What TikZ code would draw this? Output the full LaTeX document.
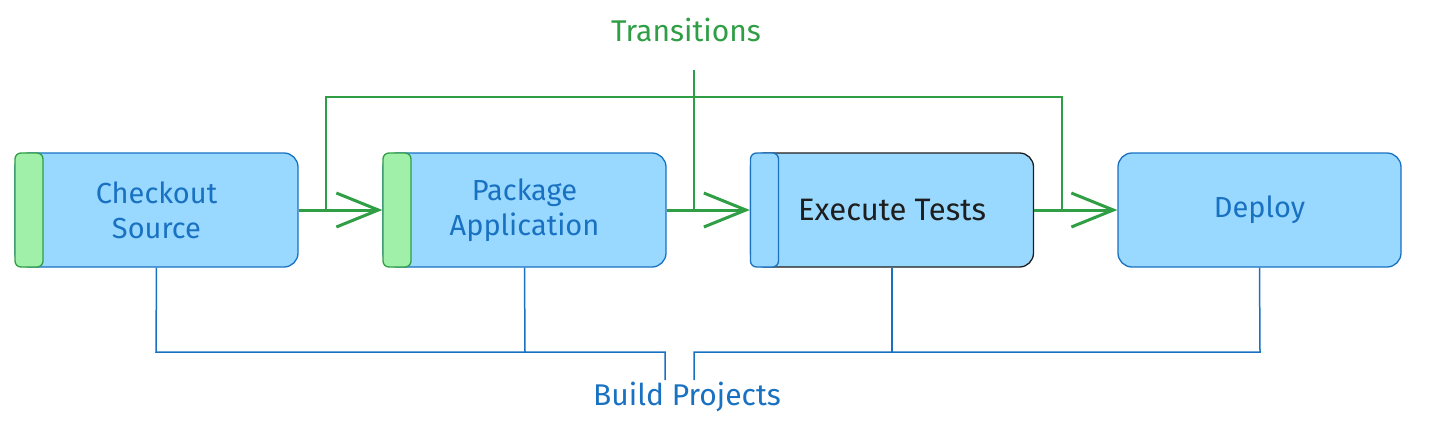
\documentclass[tikz,border=0pt]{standalone}
\usepackage{fontspec}
\setmainfont{Fira Sans}
\usetikzlibrary{arrows.meta,calc}
\definecolor{boxfill}{RGB}{153,216,255}
\definecolor{boxblue}{RGB}{25,113,194}
\definecolor{stripfill}{RGB}{160,240,170}
\definecolor{stripgreen}{RGB}{47,158,68}
\definecolor{arrowgreen}{RGB}{47,158,68}
\definecolor{inkblack}{RGB}{30,30,30}
\tikzset{
  stage/.style={draw=boxblue, fill=boxfill, line width=1.3pt, rounded corners=14pt,
    minimum width=283pt, minimum height=114pt, inner sep=0pt, align=center,
    text=boxblue, font=\fontsize{29}{35}\selectfont},
  strip/.style={draw=stripgreen, fill=stripfill, line width=1.3pt, rounded corners=6pt,
    minimum width=28pt, minimum height=114pt, inner sep=0pt},
  flow/.style={draw=arrowgreen, line width=3pt,
    -{Straight Barb[length=42pt,width=34pt,line width=3pt]}},
  tbracket/.style={draw=arrowgreen, line width=1.5pt},
  bbracket/.style={draw=boxblue, line width=1.5pt},
  lbl/.style={font=\fontsize{30}{34}\selectfont, inner sep=0pt}
}
\begin{document}
\begin{tikzpicture}[x=1pt,y=-1pt]
\useasboundingbox (0,0) rectangle (1430,424);
% stages
\node[stage] (b1) at (156.5,210) {Checkout\\Source};
\node[strip, anchor=west] (s1) at (b1.west) {};
\node[stage] (b2) at (524.5,210) {Package\\Application};
\node[strip, anchor=west] (s2) at (b2.west) {};
\node[stage, draw=inkblack, text=inkblack, font=\fontsize{31}{35}\selectfont] (b3) at (892,210) {Execute Tests};
\node[strip, anchor=west, draw=boxblue, fill=boxfill] (s3) at (b3.west) {};
\node[stage] (b4) at (1259.5,210) {Deploy};
% transitions
\draw[flow] (b1.east) -- (s2.west);
\draw[flow] (b2.east) -- (s3.west);
\draw[flow] (b3.east) -- (b4.west);
% top bracket
\coordinate (t1) at (326,210);
\coordinate (t2) at (326,97);
\coordinate (t3) at (1062,97);
\coordinate (t4) at (1062,210);
\coordinate (tm) at (694,210);
\coordinate (tt) at (694,70);
\draw[tbracket] (t1) -- (t2) -- (t3) -- (t4);
\draw[tbracket] (tm) -- (tt);
\node[lbl, text=arrowgreen] (trans) at (686,30) {Transitions};
% bottom bracket
\coordinate (u1) at (156,352);
\coordinate (u2) at (525,352);
\coordinate (u3) at (892,352);
\coordinate (u4) at (1260,352);
\coordinate (ga) at (665,352);
\coordinate (gb) at (694,352);
\coordinate (gae) at (665,380);
\coordinate (gbe) at (694,380);
\draw[bbracket] (b1.south) -- (u1) -- (ga) -- (gae);
\draw[bbracket] (b2.south) -- (u2);
\draw[bbracket] (gbe) -- (gb) -- (u4) -- (b4.south);
\draw[bbracket] (b3.south) -- (u3);
\node[lbl, text=boxblue] (build) at (687,397) {Build Projects};
\end{tikzpicture}
\end{document}
